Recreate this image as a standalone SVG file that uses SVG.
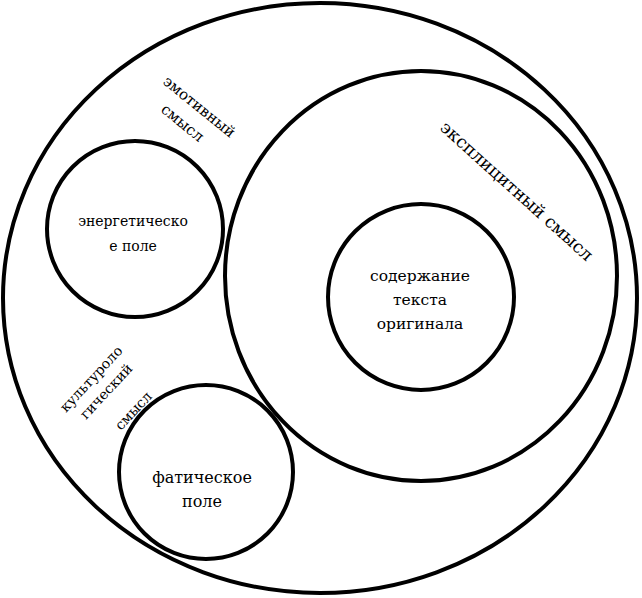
<svg xmlns="http://www.w3.org/2000/svg" width="642" height="598" viewBox="0 0 642 598">
<style>
.c{fill:none;stroke:#000;stroke-width:4}
text{font-family:'DejaVu Serif',serif;fill:#000}
</style>
<rect width="642" height="598" fill="#fff"/>
<g id="outer"><ellipse class="c" cx="320" cy="298" rx="317" ry="295"/></g>
<g id="explicit">
<ellipse class="c" cx="421" cy="276" rx="196" ry="205"/>
<text font-size="17.5" transform="translate(439,129) rotate(42)">эксплицитный смысл</text>
</g>
<g id="content">
<circle class="c" cx="421" cy="297" r="93"/>
<text font-size="15.5" text-anchor="middle"><tspan x="420" y="281">содержание</tspan><tspan x="420" y="305">текста</tspan><tspan x="420" y="329">оригинала</tspan></text>
</g>
<g id="energetic">
<circle class="c" cx="135" cy="229" r="88"/>
<text font-size="14" text-anchor="middle"><tspan x="133" y="226">энергетическо</tspan><tspan x="133" y="251">е поле</tspan></text>
</g>
<g id="fatic">
<circle class="c" cx="206" cy="472" r="87"/>
<text font-size="16" text-anchor="middle"><tspan x="202" y="483">фатическое</tspan><tspan x="202" y="507">поле</tspan></text>
</g>
<g id="emotive">
<text font-size="15" transform="translate(162,83) rotate(39)">эмотивный</text>
<text font-size="15" transform="translate(160,111) rotate(39)">смысл</text>
</g>
<g id="cultural">
<text font-size="14" transform="translate(66,413) rotate(-47)">культуроло</text>
<text font-size="14" transform="translate(86,420) rotate(-47)">гический</text>
<text font-size="14" transform="translate(121,431) rotate(-47)">смысл</text>
</g>
<g id="connectors"></g>
</svg>
